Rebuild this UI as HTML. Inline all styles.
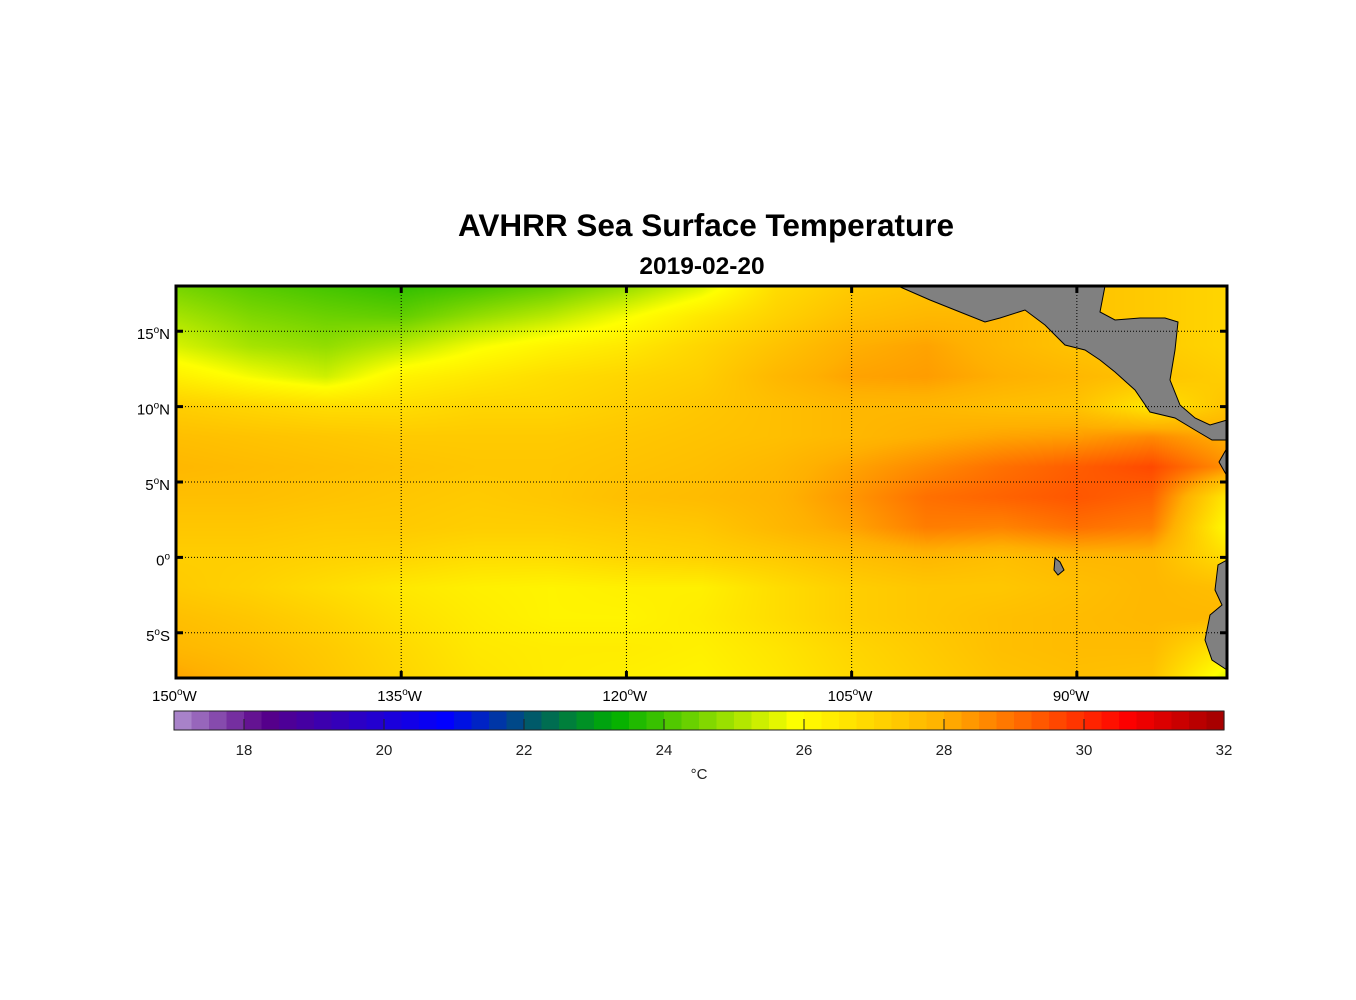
<!DOCTYPE html>
<html><head><meta charset="utf-8"><style>
body{margin:0;background:#fff;}
#wrap{position:relative;width:1356px;height:1000px;font-family:"Liberation Sans",sans-serif;}
.t{position:absolute;color:#000;white-space:nowrap;}
</style></head><body>
<div id="wrap">
<div class="t" style="left:0;width:1412px;text-align:center;top:207px;font-size:31.5px;font-weight:bold;">AVHRR Sea Surface Temperature</div>
<div class="t" style="left:0;width:1404px;text-align:center;top:253px;font-size:24.5px;font-weight:bold;">2019-02-20</div>
<canvas id="map" width="1051" height="392" style="position:absolute;left:176px;top:286px;"></canvas>
<svg id="ov" width="1356" height="1000" style="position:absolute;left:0;top:0;"></svg>
</div>
<script>
const lons=[-150,-145,-140,-135,-130,-125,-120,-115,-110,-105,-100,-95,-90,-85,-80];
const lats=[18,16,14,12,10,8,6,4,2,0,-2,-4,-6,-8];
const sst=[
[24.5,24.2,24.0,23.8,24.0,24.3,24.8,25.5,26.8,27.3,27.5,27.5,27.5,27.3,27.0],
[25.0,24.6,24.4,24.3,24.8,25.2,25.8,26.5,27.1,27.6,27.8,27.8,27.5,27.3,27.0],
[25.5,25.0,24.8,25.2,25.8,26.2,26.5,27.0,27.5,28.0,28.2,27.8,27.5,27.3,27.0],
[26.3,25.8,25.4,26.2,26.5,26.8,27.0,27.2,27.8,28.2,28.3,28.0,27.8,27.5,27.2],
[27.2,27.0,26.8,26.8,27.0,27.0,27.2,27.4,27.6,27.8,27.8,27.6,27.5,26.5,27.5],
[27.6,27.5,27.4,27.3,27.3,27.3,27.4,27.5,27.6,27.8,28.0,28.2,28.3,28.6,28.0],
[27.8,27.7,27.6,27.5,27.4,27.4,27.5,27.6,27.8,28.2,28.6,29.0,29.3,29.6,28.5],
[27.6,27.6,27.5,27.4,27.3,27.4,27.6,27.7,27.9,28.4,29.0,29.2,29.4,29.2,26.5],
[27.4,27.4,27.3,27.3,27.2,27.2,27.3,27.4,27.8,28.2,28.8,28.7,29.0,28.8,26.0],
[27.2,27.2,27.1,27.0,26.8,26.8,27.0,27.1,27.3,27.6,27.8,27.6,27.8,27.8,26.8],
[27.3,27.1,26.8,26.5,26.3,26.2,26.3,26.3,26.8,27.2,27.4,27.4,27.6,27.8,27.6],
[27.6,27.4,27.1,26.7,26.4,26.2,26.2,26.4,26.8,27.2,27.4,27.6,27.7,27.8,27.8],
[27.8,27.6,27.3,26.9,26.5,26.4,26.4,26.3,26.6,27.0,27.3,27.6,27.7,27.7,26.5],
[28.2,27.8,27.4,27.0,26.6,26.4,26.3,26.2,26.5,26.9,27.2,27.5,27.6,27.5,25.5]];
const lonTicks=[-150,-135,-120,-105,-90];
const latTicks=[15,10,5,0,-5];
const cbTicks=[18,20,22,24,26,28,30,32];
const cmapV=[17,18.3,20.9,22.2,23.3,25.9,28,29.5,30.6,32];
const cmapC=[[176,144,208],[88,0,136],[0,0,255],[0,96,96],[0,176,0],[255,255,0],[255,176,0],[255,80,0],[255,0,0],[160,0,0]];

const X0=176,X1=1227,Y0=286,Y1=678,LON0=-150,LON1=-80,LAT0=18,LAT1=-8;
const xs=l=>X0+(l-LON0)/(LON1-LON0)*(X1-X0);
const ys=l=>Y0+(l-LAT0)/(LAT1-LAT0)*(Y1-Y0);
const CB0=174,CB1=1224,cbx=v=>CB0+(v-17)/(32-17)*(CB1-CB0);
function col(v){
  if(v<=cmapV[0])return cmapC[0];
  for(let i=1;i<cmapV.length;i++){if(v<=cmapV[i]){const t=(v-cmapV[i-1])/(cmapV[i]-cmapV[i-1]);return cmapC[i].map((c,k)=>Math.round(cmapC[i-1][k]+t*(c-cmapC[i-1][k])));}}
  return cmapC[cmapC.length-1];
}
function val(lon,lat){
  let fi=(lon-lons[0])/(lons[1]-lons[0]);let fj=(lat-lats[0])/(lats[1]-lats[0]);
  fi=Math.max(0,Math.min(lons.length-1.001,fi));fj=Math.max(0,Math.min(lats.length-1.001,fj));
  const i=Math.floor(fi),j=Math.floor(fj),a=fi-i,b=fj-j;
  return sst[j][i]*(1-a)*(1-b)+sst[j][i+1]*a*(1-b)+sst[j+1][i]*(1-a)*b+sst[j+1][i+1]*a*b;
}
const cv=document.getElementById('map'),ctx=cv.getContext('2d');
const W=cv.width,H=cv.height,img=ctx.createImageData(W,H);
for(let y=0;y<H;y++)for(let x=0;x<W;x++){
  const lon=LON0+(x+0.5)/W*(LON1-LON0),lat=LAT0+(y+0.5)/H*(LAT1-LAT0);
  const c=col(val(lon,lat)),p=(y*W+x)*4;img.data[p]=c[0];img.data[p+1]=c[1];img.data[p+2]=c[2];img.data[p+3]=255;}
ctx.putImageData(img,0,0);

const NS='http://www.w3.org/2000/svg',ov=document.getElementById('ov');
function mk(tag,at,name,parent){const e=document.createElementNS(NS,tag);for(const k in at)e.setAttribute(k,at[k]);


(parent||ov).appendChild(e);return e;}
const lands=[
"898,286 930,300 960,312 985,322 1000,318 1025,310 1045,325 1065,345 1085,350 1100,360 1115,372 1135,390 1150,412 1175,418 1195,430 1212,440 1227,440 1227,420 1210,425 1195,418 1180,405 1170,380 1175,350 1178,322 1165,318 1140,318 1115,320 1100,312 1105,286",
"1227,448 1219,462 1227,476",
"1227,560 1218,565 1215,590 1222,605 1210,615 1205,640 1212,660 1227,670",
"1055,558 1060,562 1064,570 1058,575 1054,570"];
lands.forEach(p=>mk('polygon',{points:p,fill:'#808080',stroke:'#000','stroke-width':1},'land'));
lonTicks.forEach(l=>{const x=xs(l);mk('line',{x1:x,x2:x,y1:Y0,y2:Y1,stroke:'#000','stroke-width':1,'stroke-dasharray':'1,2'},'lon-gridline');
mk('line',{x1:x,x2:x,y1:Y0,y2:Y0+7,stroke:'#000','stroke-width':3},'lon-tick');mk('line',{x1:x,x2:x,y1:Y1-7,y2:Y1,stroke:'#000','stroke-width':3},'lon-tick');
const t=mk('text',{x:x-24,y:Y1+23,'font-size':15,'font-family':'Liberation Sans'},'lon-tick-label');t.innerHTML=(-l)+'<tspan dy="-6" font-size="10">o</tspan><tspan dy="6">W</tspan>';});
latTicks.forEach(l=>{const y=ys(l);mk('line',{x1:X0,x2:X1,y1:y,y2:y,stroke:'#000','stroke-width':1,'stroke-dasharray':'1,2'},'lat-gridline');
mk('line',{x1:X0,x2:X0+7,y1:y,y2:y,stroke:'#000','stroke-width':3},'lat-tick');mk('line',{x1:X1-7,x2:X1,y1:y,y2:y,stroke:'#000','stroke-width':3},'lat-tick');
const t=mk('text',{x:X0-6,y:y+8,'font-size':15,'font-family':'Liberation Sans','text-anchor':'end'},'lat-tick-label');
t.innerHTML=Math.abs(l)+'<tspan dy="-6" font-size="10">o</tspan><tspan dy="6">'+(l>0?'N':l<0?'S':'')+'</tspan>';});
mk('rect',{x:X0,y:Y0,width:X1-X0,height:Y1-Y0,fill:'none',stroke:'#000','stroke-width':3},'map-frame');
const g=mk('g',{},'colorbar');
const N=60;for(let i=0;i<N;i++){const v0=17+i*15/N;mk('rect',{x:cbx(v0),y:711,width:(CB1-CB0)/N+0.6,height:19,fill:'rgb('+col(v0+0.125).join(',')+')'},'colorbar-segment',g);}
mk('rect',{x:CB0,y:711,width:CB1-CB0,height:19,fill:'none',stroke:'#222','stroke-width':1},'colorbar-frame',g);
cbTicks.forEach(v=>{const x=cbx(v);mk('line',{x1:x,x2:x,y1:719,y2:730,stroke:'#222'},'colorbar-tick',g);
const t=mk('text',{x:x,y:755,'font-size':15,'font-family':'Liberation Sans','text-anchor':'middle',fill:'#222'},'colorbar-tick-label',g);t.textContent=v;});
const u=mk('text',{x:699,y:779,'font-size':15,'font-family':'Liberation Sans','text-anchor':'middle',fill:'#222'},'colorbar-unit',g);u.textContent='°C';
</script>
</body></html>
